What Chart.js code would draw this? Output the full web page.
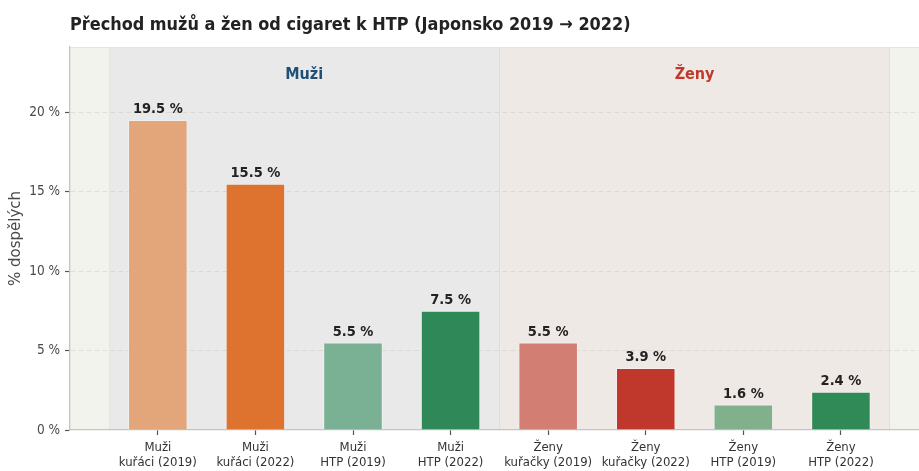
<!DOCTYPE html>
<html><head><meta charset="utf-8">
<script src="https://cdn.jsdelivr.net/npm/chart.js@4/dist/chart.umd.min.js"></script>
<style>html,body{margin:0;padding:0;background:#fff}#wrap{width:919px;height:471px;position:relative}</style>
</head><body><div id="wrap"><canvas id="c" width="919" height="471"></canvas></div>
<script>
const titleText = "Přechod mužů a žen od cigaret k HTP (Japonsko 2019 → 2022)";
const categories = [
  ["Muži", "kuřáci (2019)"], ["Muži", "kuřáci (2022)"], ["Muži", "HTP (2019)"], ["Muži", "HTP (2022)"],
  ["Ženy", "kuřačky (2019)"], ["Ženy", "kuřačky (2022)"], ["Ženy", "HTP (2019)"], ["Ženy", "HTP (2022)"]
];
const values = [19.5, 15.5, 5.5, 7.5, 5.5, 3.9, 1.6, 2.4];
const valueLabels = ["19.5 %", "15.5 %", "5.5 %", "7.5 %", "5.5 %", "3.9 %", "1.6 %", "2.4 %"];
const barColors = ["#e3a67a", "#de732f", "#7ab093", "#2e8857", "#d37e73", "#c0382b", "#80b18c", "#308a57"];
const groupNames = ["Muži", "Ženy"];
const groupFirst = [0, 4];
const groupLast = [3, 7];
const groupTextColors = ["#1f4e79", "#c0392b"];
const groupBandColors = ["#e9e9e9", "#efe9e6"];
const groupEdgeColors = ["#e6e6e6", "#ead9d4"];
const yTicks = [0, 5, 10, 15, 20];
const yTitle = "% dospělých";

const COND = "'DejaVu Sans Condensed', 'DejaVu Sans', sans-serif";
const REG = "'DejaVu Sans', sans-serif";

const decor = {
  id: 'decor',
  beforeDraw(chart) {
    const {ctx, chartArea: a, scales: {x, y}} = chart;
    ctx.save();
    ctx.fillStyle = '#f3f3ee';
    ctx.fillRect(a.left, a.top, a.right - a.left, a.bottom - a.top);
    groupNames.forEach((g, k) => {
      const x0 = x.getPixelForValue(groupFirst[k] - 0.5);
      const x1 = x.getPixelForValue(groupLast[k] + 0.5);
      ctx.fillStyle = groupBandColors[k];
      ctx.fillRect(x0, a.top, x1 - x0, a.bottom - a.top);
      ctx.strokeStyle = groupEdgeColors[k];
      ctx.lineWidth = 1;
      ctx.strokeRect(Math.round(x0) + 0.5, a.top + 0.5, Math.round(x1 - x0), a.bottom - a.top - 1);
    });
    ctx.strokeStyle = '#e4e4e4';
    ctx.beginPath(); ctx.moveTo(a.left, a.top + 0.5); ctx.lineTo(a.right, a.top + 0.5); ctx.stroke();
    groupNames.forEach((g, k) => {
      const cx = x.getPixelForValue((groupFirst[k] + groupLast[k]) / 2);
      ctx.fillStyle = groupTextColors[k];
      ctx.font = "bold 16px " + COND;
      ctx.textAlign = 'center'; ctx.textBaseline = 'middle';
      ctx.fillText(g, cx, y.getPixelForValue(22.35));
    });
    ctx.fillStyle = '#222';
    ctx.font = "bold 17.9px " + COND;
    ctx.textAlign = 'left'; ctx.textBaseline = 'middle';
    ctx.fillText(titleText, a.left, 25.5);
    ctx.restore();
  },
  afterDatasetsDraw(chart) {
    const {ctx} = chart;
    const meta = chart.getDatasetMeta(0);
    ctx.save();
    ctx.fillStyle = '#222';
    ctx.font = "bold 14.5px " + COND;
    ctx.textAlign = 'center'; ctx.textBaseline = 'alphabetic';
    meta.data.forEach((bar, i) => {
      ctx.fillText(valueLabels[i], bar.x, bar.y - 7);
    });
    ctx.restore();
  }
};

new Chart(document.getElementById('c'), {
  type: 'bar',
  data: {
    datasets: [{
      data: values.map((v, i) => ({x: i, y: v})),
      backgroundColor: barColors,
      borderColor: 'rgba(255,255,255,0.35)',
      borderWidth: 1,
      barPercentage: 0.61,
      categoryPercentage: 1
    }]
  },
  options: {
    responsive: false,
    animation: false,
    devicePixelRatio: 1,
    layout: {padding: {top: 47, left: 0, right: 0, bottom: 0}},
    plugins: {legend: {display: false}, tooltip: {enabled: false}, title: {display: false}},
    scales: {
      x: {
        type: 'linear',
        offset: false,
        min: -0.9, max: 7.8,
        afterBuildTicks: s => { s.ticks = categories.map((c, i) => ({value: i})); },
        afterFit: s => { s.height = 41; },
        ticks: {
          callback: v => categories[v] || '',
          font: {family: COND, size: 13, lineHeight: 1.15},
          color: '#333',
          padding: 5,
          maxRotation: 0,
          autoSkip: false
        },
        grid: {offset: false, drawOnChartArea: false, drawTicks: true, tickLength: 5, tickColor: '#555', tickWidth: 1.2},
        border: {display: true, color: '#c4c4c4', width: 1.3}
      },
      y: {
        min: 0, max: 24.1,
        z: 1,
        afterBuildTicks: s => { s.ticks = yTicks.map(v => ({value: v})); },
        afterFit: s => { s.width = 70; },
        ticks: {
          callback: v => v + ' %',
          font: {family: COND, size: 13.5},
          color: '#4a4a4a',
          padding: 5
        },
        grid: {
          color: ctx => (ctx.tick && ctx.tick.value === 0) ? 'rgba(0,0,0,0)' : 'rgba(200,200,185,0.45)',
          lineWidth: 1,
          tickLength: 5,
          tickColor: '#555',
          tickWidth: 1.2
        },
        border: {display: true, color: '#c4c4c4', width: 1.3, dash: [5, 3]},
        title: {
          display: true,
          text: yTitle,
          font: {family: REG, size: 15},
          color: '#4a4a4a',
          padding: {top: 7, bottom: 0}
        }
      }
    }
  },
  plugins: [decor]
});
</script>
</body></html>
